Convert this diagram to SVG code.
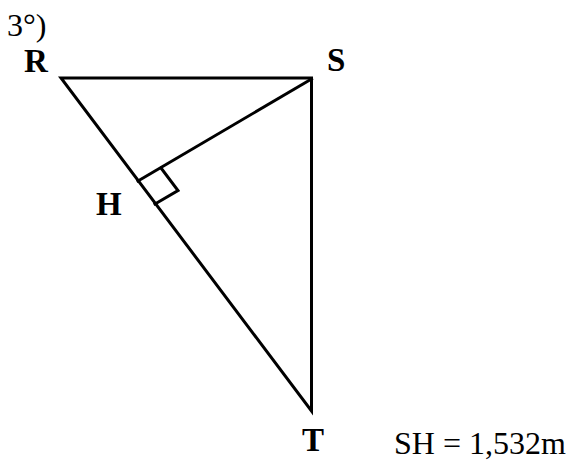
<svg xmlns="http://www.w3.org/2000/svg" width="568" height="464" viewBox="0 0 568 464">
<style>
.ln{stroke:#000;stroke-width:3;fill:none;stroke-linejoin:miter;stroke-linecap:square}
.lb{font-family:"Liberation Serif",serif;font-weight:bold;font-size:33px;fill:#000}
.tx{font-family:"Liberation Serif",serif;font-size:32px;fill:#000}
</style>
<rect width="568" height="464" fill="#fff"/>
<text class="tx" x="7" y="36">3°)</text>
<g id="connectors">
<polygon class="ln" points="61,78 311.5,78 311.5,411"/>
<line class="ln" x1="311.5" y1="79" x2="138" y2="181"/>
<polyline class="ln" points="161,168 178,190.5 155,204"/>
</g>
<g id="R"><text class="lb" x="24" y="72">R</text></g>
<g id="S"><text class="lb" x="327" y="71">S</text></g>
<g id="H"><text class="lb" x="96" y="215">H</text></g>
<g id="T"><text class="lb" x="302" y="451">T</text></g>
<text class="tx" x="394" y="454">SH = 1,532m</text>
</svg>
